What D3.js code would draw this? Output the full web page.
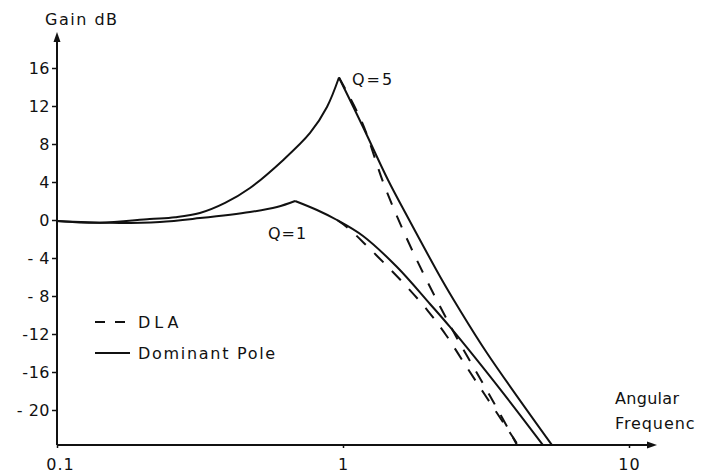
<!DOCTYPE html>
<html>
<head>
<meta charset="utf-8">
<script src="https://cdn.jsdelivr.net/npm/d3@7"></script>
<style>
body{margin:0;background:#fff;}
text{font-family:"DejaVu Sans",sans-serif;fill:#111;}
</style>
</head>
<body>
<div id="chart"></div>
<script>
// 軸の目盛
var yTicks = [16, 12, 8, 4, 0, -4, -8, -12, -16, -20];
var yTickLabels = ["16", "12", "8", "4", "0", "- 4", "- 8", "-12", "-16", "- 20"];
var xTicks = [0.1, 1, 10];
var xTickLabels = ["0.1", "1", "10"];

// [角周波数, dB] 図から読み取り
var q5Dominant = [[0.1, -0.1], [0.141, -0.3], [0.211, 0.1], [0.259, 0.3], [0.316, 0.74], [0.387, 1.8], [0.473, 3.37], [0.617, 6.3],
    [0.767, 9.16], [0.879, 11.9], [0.968, 15.0],
    [1.175, 9.79], [1.437, 4.21], [1.675, 0.42], [2.219, -6.32], [2.524, -9.16], [3.187, -14.0], [5.38, -23.7]];
var q1Dominant = [[0.1, -0.1], [0.153, -0.3], [0.229, -0.2], [0.316, 0.2], [0.473, 0.84], [0.588, 1.37], [0.68, 2.0],
    [0.811, 1.05], [0.953, 0.0], [1.175, -1.68], [1.545, -4.95], [2.015, -8.84], [2.366, -11.26], [3.626, -18.2], [5.003, -23.7]];
var q5DLA = [[0.968, 15.0], [1.165, 10.3], [1.402, 3.47], [1.757, -3.37], [2.405, -11.47], [3.373, -19.26], [4.059, -23.68]];
var q1DLA = [[0.953, 0.0], [1.041, -0.84], [1.223, -2.84], [1.437, -4.95], [1.675, -7.05], [1.983, -9.58],
    [2.291, -12.1], [2.692, -15.37], [3.137, -18.42], [3.685, -21.6], [4.092, -23.68]];

var width = 709, height = 476;
var ink = "#111";

var svg = d3.select("#chart").append("svg")
    .attr("width", width)
    .attr("height", height);

var x = d3.scaleLog().domain([0.1, 10]).range([57, 629]);
var y = d3.scaleLinear().domain([-20, 16]).range([410, 68]);
var yBottom = 445, yTop = 32, xRight = 657;

// 軸線と矢印
svg.append("line").attr("x1", x(0.1)).attr("y1", yBottom).attr("x2", x(0.1)).attr("y2", yTop + 4)
    .attr("stroke", ink).attr("stroke-width", 2);
svg.append("line").attr("x1", x(0.1)).attr("y1", yBottom).attr("x2", xRight - 4).attr("y2", yBottom)
    .attr("stroke", ink).attr("stroke-width", 2);
svg.append("path")
    .attr("d", "M" + x(0.1) + "," + yTop + "l-3.5,10l7,0z")
    .attr("fill", ink);
svg.append("path")
    .attr("d", "M" + xRight + "," + yBottom + "l-10,-3.5l0,7z")
    .attr("fill", ink);

// y軸
var yAxis = svg.append("g")
    .attr("transform", "translate(" + x(0.1) + ",0)")
    .call(d3.axisLeft(y).tickValues(yTicks).tickSize(5).tickPadding(2)
        .tickFormat(function(d, i){ return yTickLabels[i]; }));
yAxis.select(".domain").remove();
yAxis.selectAll("line").attr("stroke", ink).attr("stroke-width", 1.5);
yAxis.selectAll("text").attr("font-size", 16).attr("letter-spacing", 0.5)
    .style("font-family", "'DejaVu Sans', sans-serif").attr("fill", ink);

// x軸
var xAxis = svg.append("g")
    .attr("transform", "translate(0," + yBottom + ")")
    .call(d3.axisBottom(x).tickValues(xTicks).tickSize(3).tickPadding(11)
        .tickFormat(function(d, i){ return xTickLabels[i]; }));
xAxis.select(".domain").remove();
xAxis.selectAll("line").attr("stroke", ink).attr("stroke-width", 1.5);
xAxis.selectAll("text").attr("font-size", 16).attr("letter-spacing", 1)
    .style("font-family", "'DejaVu Sans', sans-serif").attr("fill", ink);
xAxis.selectAll(".tick").filter(function(d){ return d === 0.1; })
    .select("text").attr("dx", 3);

// 軸ラベル
svg.append("text").attr("x", 45).attr("y", 25).attr("font-size", 16).attr("letter-spacing", 1.5).text("Gain dB");
svg.append("text").attr("x", 615).attr("y", 404).attr("font-size", 16).attr("letter-spacing", 0.3).text("Angular");
svg.append("text").attr("x", 615).attr("y", 429).attr("font-size", 16).attr("letter-spacing", 0.9).text("Frequenc");

// 曲線
var line = d3.line()
    .x(function(d){ return x(d[0]); })
    .y(function(d){ return y(d[1]); })
    .curve(d3.curveCatmullRom.alpha(0.5));

function splitAtPeak(data){
    var k = d3.maxIndex(data, function(d){ return d[1]; });
    return [data.slice(0, k + 1), data.slice(k)];
}

var solids = splitAtPeak(q5Dominant).concat(splitAtPeak(q1Dominant));
svg.selectAll("path.solid")
    .data(solids)
    .enter()
    .append("path")
    .attr("class", "solid")
    .attr("d", line)
    .attr("fill", "none")
    .attr("stroke", ink)
    .attr("stroke-width", 2)
    .attr("stroke-linejoin", "round");

svg.selectAll("path.dla")
    .data([q5DLA, q1DLA])
    .enter()
    .append("path")
    .attr("class", "dla")
    .attr("d", line)
    .attr("fill", "none")
    .attr("stroke", ink)
    .attr("stroke-width", 2)
    .attr("stroke-dasharray", "13,12");

// 曲線ラベル
svg.append("text").attr("x", 352).attr("y", 85).attr("font-size", 16).attr("letter-spacing", 2).text("Q=5");
svg.append("text").attr("x", 268).attr("y", 239).attr("font-size", 16).attr("letter-spacing", 1).text("Q=1");

// 凡例
svg.append("line").attr("x1", 95).attr("y1", 322).attr("x2", 129).attr("y2", 322)
    .attr("stroke", ink).attr("stroke-width", 2).attr("stroke-dasharray", "10,10");
svg.append("text").attr("x", 138).attr("y", 328).attr("font-size", 16).attr("letter-spacing", 4).text("DLA");
svg.append("line").attr("x1", 95).attr("y1", 353).attr("x2", 130).attr("y2", 353)
    .attr("stroke", ink).attr("stroke-width", 2);
svg.append("text").attr("x", 138).attr("y", 359).attr("font-size", 16).attr("letter-spacing", 1.7).text("Dominant Pole");
</script>
</body>
</html>
